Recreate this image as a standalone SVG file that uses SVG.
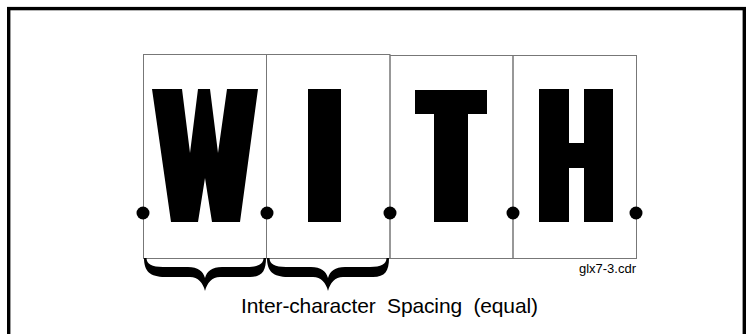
<svg xmlns="http://www.w3.org/2000/svg" width="749" height="334" viewBox="0 0 749 334">
  <style>
    .cell { fill: none; stroke: #777; stroke-width: 1; }
    .glyph { fill: #000; }
    .dot { fill: #000; }
    .brace { fill: #000; }
    .label { font-family: "Liberation Sans", Arial, sans-serif; fill: #000; }
  </style>
  <rect width="749" height="334" fill="#fff"/>
  <g id="frame">
    <rect x="8.7" y="8.6" width="735.6" height="340" fill="none" stroke="#000" stroke-width="3.4"/>
  </g>
  <g id="cells">
    <rect class="cell" x="143.5" y="54.5" width="123" height="204"/>
    <rect class="cell" x="266.5" y="54.5" width="123.5" height="204"/>
    <rect class="cell" x="390" y="55.5" width="123" height="203"/>
    <rect class="cell" x="513" y="55.5" width="123.5" height="203"/>
  </g>
  <g id="letter-W">
    <polygon class="glyph" points="152,89 182,89 190,153 198,89 210,89 218,153 227,89 258,89 240,222 212,222 205,178 198,222 171,222"/>
  </g>
  <g id="letter-I">
    <rect class="glyph" x="308" y="89" width="33" height="133"/>
  </g>
  <g id="letter-T">
    <rect class="glyph" x="415" y="90" width="72" height="24"/>
    <rect class="glyph" x="434" y="90" width="34" height="132"/>
  </g>
  <g id="letter-H">
    <rect class="glyph" x="539" y="89" width="30" height="133"/>
    <rect class="glyph" x="584" y="89" width="29" height="133"/>
    <rect class="glyph" x="569" y="143" width="15" height="25"/>
  </g>
  <g id="dots">
    <circle class="dot" cx="143" cy="213" r="6.5"/>
    <circle class="dot" cx="267" cy="213" r="6.5"/>
    <circle class="dot" cx="390" cy="213" r="6.5"/>
    <circle class="dot" cx="513" cy="213" r="6.5"/>
    <circle class="dot" cx="636" cy="213" r="6.5"/>
  </g>
  <g id="braces">
    <path class="brace" d="M144,258 C144,271 150,277 165,277 L190,277 C198,277 203,283 205,291 C207,283 212,277 220,277 L250,277 C262,277 266,271 266,258 L263.5,258 C263.5,264 258,267 247,267 L222,267 C212,267 207,271 205,278 C203,271 198,267 188,267 L163,267 C152,267 146.5,264 146.5,258 Z"/>
    <path class="brace" d="M267,258 C267,271 273,277 288,277 L313,277 C321,277 326,283 328,291 C330,283 335,277 343,277 L373,277 C385,277 389,271 389,258 L386.5,258 C386.5,264 381,267 370,267 L345,267 C335,267 330,271 328,278 C326,271 321,267 311,267 L286,267 C275,267 269.5,264 269.5,258 Z"/>
  </g>
  <g id="labels">
    <text class="label" x="241" y="313" font-size="21" textLength="297" lengthAdjust="spacing" xml:space="preserve">Inter-character  Spacing  (equal)</text>
    <text class="label" x="636" y="273" font-size="13" text-anchor="end">glx7-3.cdr</text>
  </g>
</svg>
